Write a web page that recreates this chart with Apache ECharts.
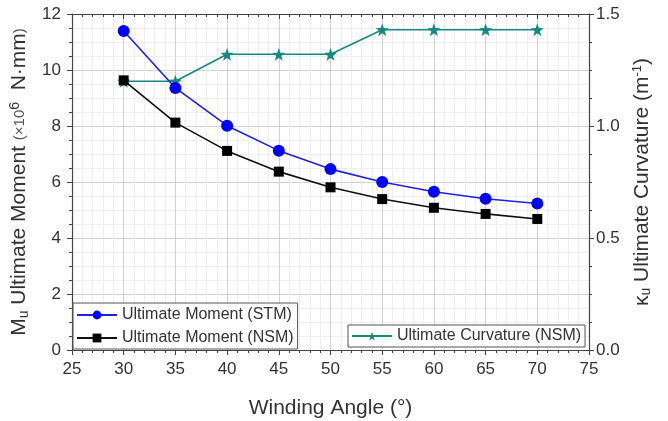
<!DOCTYPE html>
<html>
<head>
<meta charset="utf-8">
<script src="https://cdn.jsdelivr.net/npm/echarts@6/dist/echarts.min.js"></script>
<style>
  html, body { margin: 0; padding: 0; background: #fff; }
  #main { width: 668px; height: 421px; }
</style>
</head>
<body>
<div id="main"></div>
<script>
// 数据
var angles = [30, 35, 40, 45, 50, 55, 60, 65, 70];
var momentSTM = [11.39, 9.36, 8.01, 7.12, 6.46, 6.00, 5.65, 5.40, 5.23];
var momentNSM = [9.63, 8.12, 7.11, 6.37, 5.81, 5.39, 5.08, 4.86, 4.68];
var curvatureNSM = [1.20, 1.20, 1.32, 1.32, 1.32, 1.43, 1.43, 1.43, 1.43];

function pairs(xs, ys) {
    var out = [];
    for (var i = 0; i < xs.length; i++) out.push([xs[i], ys[i]]);
    return out;
}

var chart = echarts.init(document.getElementById('main'));
var font = 'Liberation Sans, Arial, sans-serif';

var option = {
    backgroundColor: '#fff',
    animation: false,
    textStyle: { fontFamily: font },
    grid: { left: 72, right: 79, top: 14, bottom: 71, outerBoundsMode: 'none' },
    legend: [
        {
            orient: 'vertical',
            left: 73, top: 303,
            data: ['Ultimate Moment (STM)', 'Ultimate Moment (NSM)'],
            itemWidth: 40, itemHeight: 11, itemGap: 7,
            padding: [4, 4, 3, 3],
            borderColor: '#555', borderWidth: 1,
            backgroundColor: '#fff',
            textStyle: { fontSize: 16, color: '#333', fontFamily: font }
        },
        {
            left: 348, top: 325,
            data: ['Ultimate Curvature (NSM)'],
            itemWidth: 40, itemHeight: 11,
            padding: [3, 4, 3, 3],
            borderColor: '#555', borderWidth: 1,
            backgroundColor: '#fff',
            textStyle: { fontSize: 16, color: '#333', fontFamily: font }
        }
    ],
    xAxis: [
        {
            type: 'value', min: 25, max: 75, interval: 5,
            name: 'Winding Angle (°)',
            nameLocation: 'middle', nameGap: 48,
            nameTextStyle: { fontSize: 21, color: '#333' },
            axisLine: { lineStyle: { color: '#444', width: 1.2 } },
            axisTick: { inside: false, length: 5, lineStyle: { color: '#444' } },
            minorTick: { show: true, splitNumber: 5, length: 3, lineStyle: { color: '#444' } },
            axisLabel: { fontSize: 17, color: '#333', margin: 11 },
            splitLine: { show: true, lineStyle: { color: '#d2d2d2' } },
            minorSplitLine: { show: true, lineStyle: { color: '#eeeeee' } }
        },
        {
            type: 'value', min: 25, max: 75, interval: 5, position: 'top',
            axisLine: { show: true, onZero: false, lineStyle: { color: '#444', width: 1.2 } },
            axisTick: { inside: true, length: 5, lineStyle: { color: '#444' } },
            minorTick: { show: true, splitNumber: 5, length: 3, lineStyle: { color: '#444' } },
            axisLabel: { show: false },
            splitLine: { show: false }
        }
    ],
    yAxis: [
        {
            type: 'value', min: 0, max: 12, interval: 2,
            name: '{n|M}{s|u}{n| Ultimate Moment }{m|(×10}{p|6}{n|  N·mm}{m|)}',
            nameLocation: 'middle', nameGap: 37, nameRotate: 90,
            nameTextStyle: {
                color: '#333',
                rich: {
                    n: { fontSize: 21, color: '#333', fontFamily: font },
                    m: { fontSize: 15, color: '#555', fontFamily: font },
                    s: { fontSize: 14, color: '#333', fontFamily: font, verticalAlign: 'bottom', padding: [9, 0, 0, 0] },
                    p: { fontSize: 14, color: '#333', fontFamily: font, verticalAlign: 'top', padding: [0, 0, 9, 0] }
                }
            },
            axisLine: { show: true, lineStyle: { color: '#444', width: 1.2 } },
            axisTick: { inside: false, length: 5, lineStyle: { color: '#444' } },
            minorTick: { show: true, splitNumber: 4, length: 3, lineStyle: { color: '#444' } },
            axisLabel: { fontSize: 17, color: '#333', margin: 11 },
            splitLine: { show: true, lineStyle: { color: '#d2d2d2' } },
            minorSplitLine: { show: true, lineStyle: { color: '#eeeeee' } }
        },
        {
            type: 'value', min: 0, max: 1.5, interval: 0.5,
            position: 'right',
            name: '{k|κ}{s|u}{n| Ultimate Curvature (m}{p|-1}{n|)}',
            nameLocation: 'middle', nameGap: 41, nameRotate: 90,
            nameTextStyle: {
                color: '#333',
                rich: {
                    n: { fontSize: 21, color: '#333', fontFamily: font },
                    k: { fontSize: 21, color: '#333', fontFamily: font },
                    s: { fontSize: 14, color: '#333', fontFamily: font, verticalAlign: 'bottom', padding: [9, 0, 0, 0] },
                    p: { fontSize: 13, color: '#333', fontFamily: font, verticalAlign: 'top', padding: [0, 0, 9, 0] }
                }
            },
            axisLine: { show: true, lineStyle: { color: '#444', width: 1.2 } },
            axisTick: { inside: false, length: 5, lineStyle: { color: '#444' } },
            minorTick: { show: true, splitNumber: 4, length: 3, lineStyle: { color: '#444' } },
            axisLabel: {
                fontSize: 17, color: '#333', margin: 7,
                formatter: function (v) { return v.toFixed(1); }
            },
            splitLine: { show: false }
        }
    ],
    series: [
        {
            name: 'Ultimate Curvature (NSM)',
            type: 'line',
            yAxisIndex: 1,
            data: pairs(angles, curvatureNSM),
            symbol: 'path://M0,-10 L2.35,-3.24 L9.51,-3.09 L3.8,1.24 L5.88,8.09 L0,4 L-5.88,8.09 L-3.8,1.24 L-9.51,-3.09 L-2.35,-3.24 Z',
            symbolSize: 13,
            color: '#178a80',
            lineStyle: { color: '#178a80', width: 1.6 },
            z: 1
        },
        {
            name: 'Ultimate Moment (STM)',
            type: 'line',
            data: pairs(angles, momentSTM),
            symbol: 'circle',
            symbolSize: 12,
            color: '#0000ff',
            lineStyle: { color: '#2020e0', width: 1.6 },
            z: 3
        },
        {
            name: 'Ultimate Moment (NSM)',
            type: 'line',
            data: pairs(angles, momentNSM),
            symbol: 'rect',
            symbolSize: 10,
            color: '#000',
            lineStyle: { color: '#111', width: 1.6 },
            z: 2
        }
    ]
};

chart.setOption(option);
</script>
</body>
</html>
